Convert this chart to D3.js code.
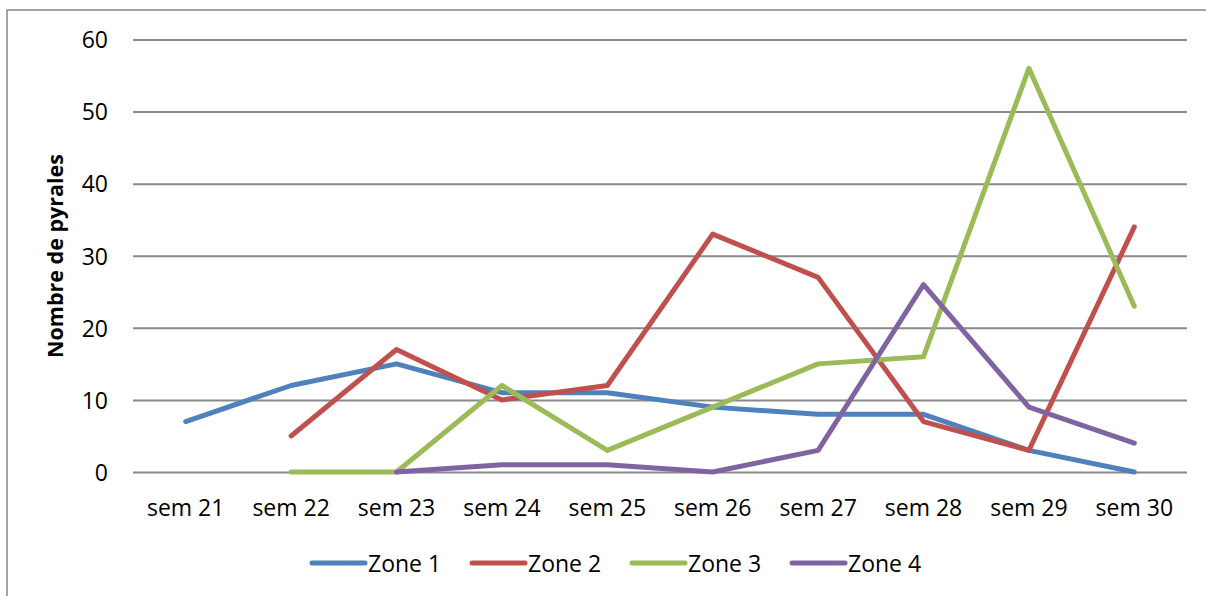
<!DOCTYPE html>
<html>
<head>
<meta charset="utf-8">
<script src="https://cdn.jsdelivr.net/npm/d3@7"></script>
<style>
  html, body { margin: 0; padding: 0; background: #fff; }
  svg { display: block; }
  text { font-family: "Open Sans", "Liberation Sans", sans-serif; fill: #000; }
</style>
</head>
<body>
<svg id="chart" width="1206" height="596"></svg>
<script>
const categories = ["sem 21", "sem 22", "sem 23", "sem 24", "sem 25", "sem 26", "sem 27", "sem 28", "sem 29", "sem 30"];
const zone1 = [7, 12, 15, 11, 11, 9, 8, 8, 3, 0];
const zone2 = [null, 5, 17, 10, 12, 33, 27, 7, 3, 34];
const zone3 = [null, 0, 0, 12, 3, 9, 15, 16, 56, 23];
const zone4 = [null, null, 0, 1, 1, 0, 3, 26, 9, 4];
const seriesNames = ["Zone 1", "Zone 2", "Zone 3", "Zone 4"];
const yTicks = [0, 10, 20, 30, 40, 50, 60];
const yTitle = "Nombre de pyrales";

const seriesValues = [zone1, zone2, zone3, zone4];
const colors = ["#4F81BD", "#C0504D", "#9BBB59", "#8064A2"];

const svg = d3.select("#chart");

// outer chart frame
svg.append("rect")
  .attr("x", 7).attr("y", 10)
  .attr("width", 1230).attr("height", 620)
  .attr("fill", "none").attr("stroke", "#878787").attr("stroke-width", 1.5);

const plotLeft = 133, plotRight = 1187, plotTop = 39.5, plotBottom = 472;

const x = d3.scaleBand().domain(categories).range([plotLeft, plotRight]).padding(0);
const y = d3.scaleLinear().domain([0, 60]).range([plotBottom, plotTop]);
const cx = c => x(c) + x.bandwidth() / 2;

// y axis with gridlines
const yAxis = svg.append("g")
  .attr("transform", `translate(${plotLeft},0)`)
  .call(d3.axisLeft(y).tickValues(yTicks).tickSize(-(plotRight - plotLeft)).tickPadding(25).tickFormat(d3.format("d")));
yAxis.select(".domain").remove();
yAxis.selectAll(".tick line").attr("stroke", "#8a8a8a").attr("stroke-width", 2);
yAxis.selectAll(".tick text")
  .attr("font-size", 23)
  .attr("font-family", "'Open Sans', sans-serif")
  .attr("fill", "#000")
  .attr("dy", "0.36em");

// x axis labels
const xAxis = svg.append("g")
  .attr("transform", `translate(0,${plotBottom})`)
  .call(d3.axisBottom(x).tickSize(0).tickPadding(0));
xAxis.select(".domain").remove();
xAxis.selectAll(".tick text")
  .attr("font-size", 23)
  .attr("font-family", "'Open Sans', sans-serif")
  .attr("fill", "#000")
  .attr("y", 44)
  .attr("dy", 0);

// y title
svg.append("text")
  .attr("transform", "translate(63,256) rotate(-90)")
  .attr("text-anchor", "middle")
  .attr("font-size", 21.5)
  .attr("font-weight", "bold")
  .text(yTitle);

// lines
const line = d3.line()
  .defined(d => d.v != null)
  .x(d => cx(d.c))
  .y(d => y(d.v));

seriesValues.forEach((vals, i) => {
  const data = categories.map((c, j) => ({ c, v: vals[j] }));
  svg.append("path")
    .datum(data)
    .attr("d", line)
    .attr("fill", "none")
    .attr("stroke", colors[i])
    .attr("stroke-width", 5)
    .attr("stroke-linejoin", "round")
    .attr("stroke-linecap", "round");
});

// legend
const legend = svg.append("g").attr("transform", "translate(312,563)");
seriesNames.forEach((name, i) => {
  const g = legend.append("g").attr("transform", `translate(${i * 160},0)`);
  g.append("line")
    .attr("x1", 0).attr("x2", 53).attr("y1", 0).attr("y2", 0)
    .attr("stroke", colors[i]).attr("stroke-width", 5).attr("stroke-linecap", "round");
  g.append("text")
    .attr("x", 56).attr("y", 9)
    .attr("font-size", 23)
    .text(name);
});
</script>
</body>
</html>
